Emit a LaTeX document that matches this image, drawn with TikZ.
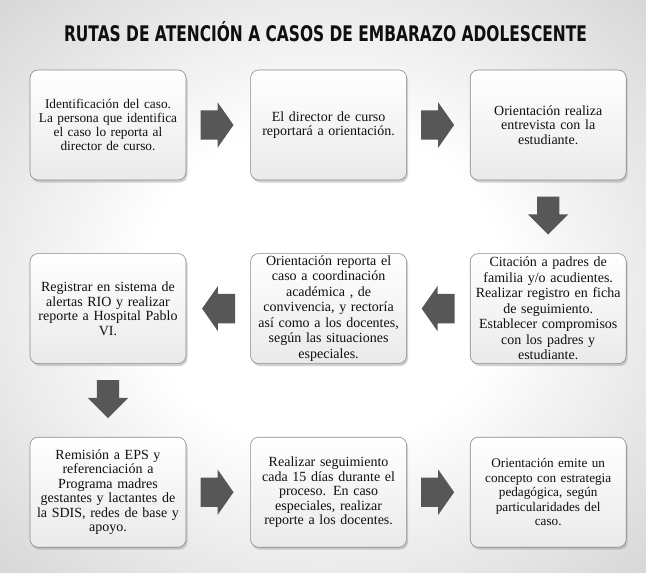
\documentclass[tikz,border=0pt]{standalone}
\usepackage{fontspec}
\setmainfont{Liberation Serif}
\newfontfamily\titlefont{DejaVu Sans}
\usepackage{xcolor}
\usepackage{graphicx}
\usepackage{tikz}
\usetikzlibrary{positioning,shapes.arrows,shadows}

\definecolor{bgedge}{HTML}{D2D2D2}
\definecolor{boxline}{HTML}{8A8A8A}
\definecolor{boxbottom}{HTML}{EAEAEA}
\definecolor{arrowgray}{HTML}{575757}
\definecolor{inkgray}{HTML}{0F0F0F}
\pgfdeclareradialshading{bgglow}{\pgfpoint{0bp}{0bp}}{color(0bp)=(white); color(14bp)=(white); color(38bp)=(bgedge); color(50bp)=(bgedge)}

\begin{document}
\begin{tikzpicture}[
    x=1pt, y=1pt,
    card/.style={rectangle, rounded corners=8pt, draw=boxline, line width=0.6pt,
        top color=white, bottom color=boxbottom,
        drop shadow={shadow xshift=1.5pt, shadow yshift=-2.5pt, opacity=0.35},
        minimum width=156pt, minimum height=110pt, text width=154pt, inner sep=0pt,
        align=center, text=inkgray, font=\fontsize{14}{14.5}\selectfont},  % Style for the steps
    arrowright/.style={single arrow, fill=arrowgray, draw=none, inner xsep=0pt, inner ysep=14.5pt,
        single arrow head extend=8pt, single arrow tip angle=110, minimum height=33pt, anchor=tail},  % Block arrow
    arrowdown/.style={arrowright, rotate=-90, inner ysep=11pt,
        single arrow head extend=9pt, single arrow tip angle=90, minimum height=38pt},  % Block arrow going down
    arrowleft/.style={arrowright, rotate=180}  % Block arrow going left
    ]

    % Background
    \shade[shading=bgglow] (0,0) rectangle (646,-573);

    % Title
    \node[anchor=base, text=inkgray, font=\titlefont\bfseries\fontsize{21.5}{24}\selectfont] (title) at (325.5,-41.2)
        {\resizebox{523pt}{\height}{RUTAS DE ATENCIÓN A CASOS DE EMBARAZO ADOLESCENTE}};

    % First row, going right
    \node[card, font=\fontsize{13.3}{14}\selectfont] (S1) at (108,-125)
        {Identificación del caso.\\ La persona que identifica\\ el caso lo reporta al\\ director de curso.};
    \node[card, right=64pt of S1] (S2) {El director de curso\\ reportará a orientación.};
    \node[card, right=63pt of S2] (S3) {Orientación realiza\\ entrevista con la\\ estudiante.};

    % Second row, going left
    \node[card, below=73pt of S3, font=\fontsize{14}{15.5}\selectfont] (S4)
        {Citación a padres de\\ familia y/o acudientes.\\ Realizar registro en ficha\\ de seguimiento.\\ Establecer compromisos\\ con los padres y\\ estudiante.};
    \node[card, left=63pt of S4, font=\fontsize{14}{15.5}\selectfont] (S5)
        {Orientación reporta el\\ caso a coordinación\\ académica , de\\ convivencia, y rectoría\\ así como a los docentes,\\ según las situaciones\\ especiales.};
    \node[card, left=64pt of S5] (S6)
        {Registrar en sistema de\\ alertas RIO y realizar\\ reporte a Hospital Pablo\\ VI.};

    % Third row, going right
    \node[card, below=73pt of S6] (S7)
        {Remisión a EPS y\\ referenciación a\\ Programa madres\\ gestantes y lactantes de\\ la SDIS, redes de base y\\ apoyo.};
    \node[card, right=64pt of S7] (S8)
        {Realizar seguimiento\\ cada 15 días durante el\\ proceso. En caso\\ especiales, realizar\\ reporte a los docentes.};
    \node[card, right=63pt of S8, font=\fontsize{13.2}{14.5}\selectfont] (S9)
        {Orientación emite un\\ concepto con estrategia\\ pedagógica, según\\ particularidades del\\ caso.};

    % Arrows between the steps
    \node[arrowright] (A12) at ([xshift=14pt]S1.east) {};
    \node[arrowright] (A23) at ([xshift=14pt]S2.east) {};
    \node[arrowdown] (A34) at ([yshift=-16pt]S3.south) {};
    \node[arrowleft] (A45) at ([xshift=-15pt]S4.west) {};
    \node[arrowleft] (A56) at ([xshift=-15pt]S5.west) {};
    \node[arrowdown] (A67) at ([yshift=-16pt]S6.south) {};
    \node[arrowright] (A78) at ([xshift=14pt]S7.east) {};
    \node[arrowright] (A89) at ([xshift=14pt]S8.east) {};

\end{tikzpicture}
\end{document}
